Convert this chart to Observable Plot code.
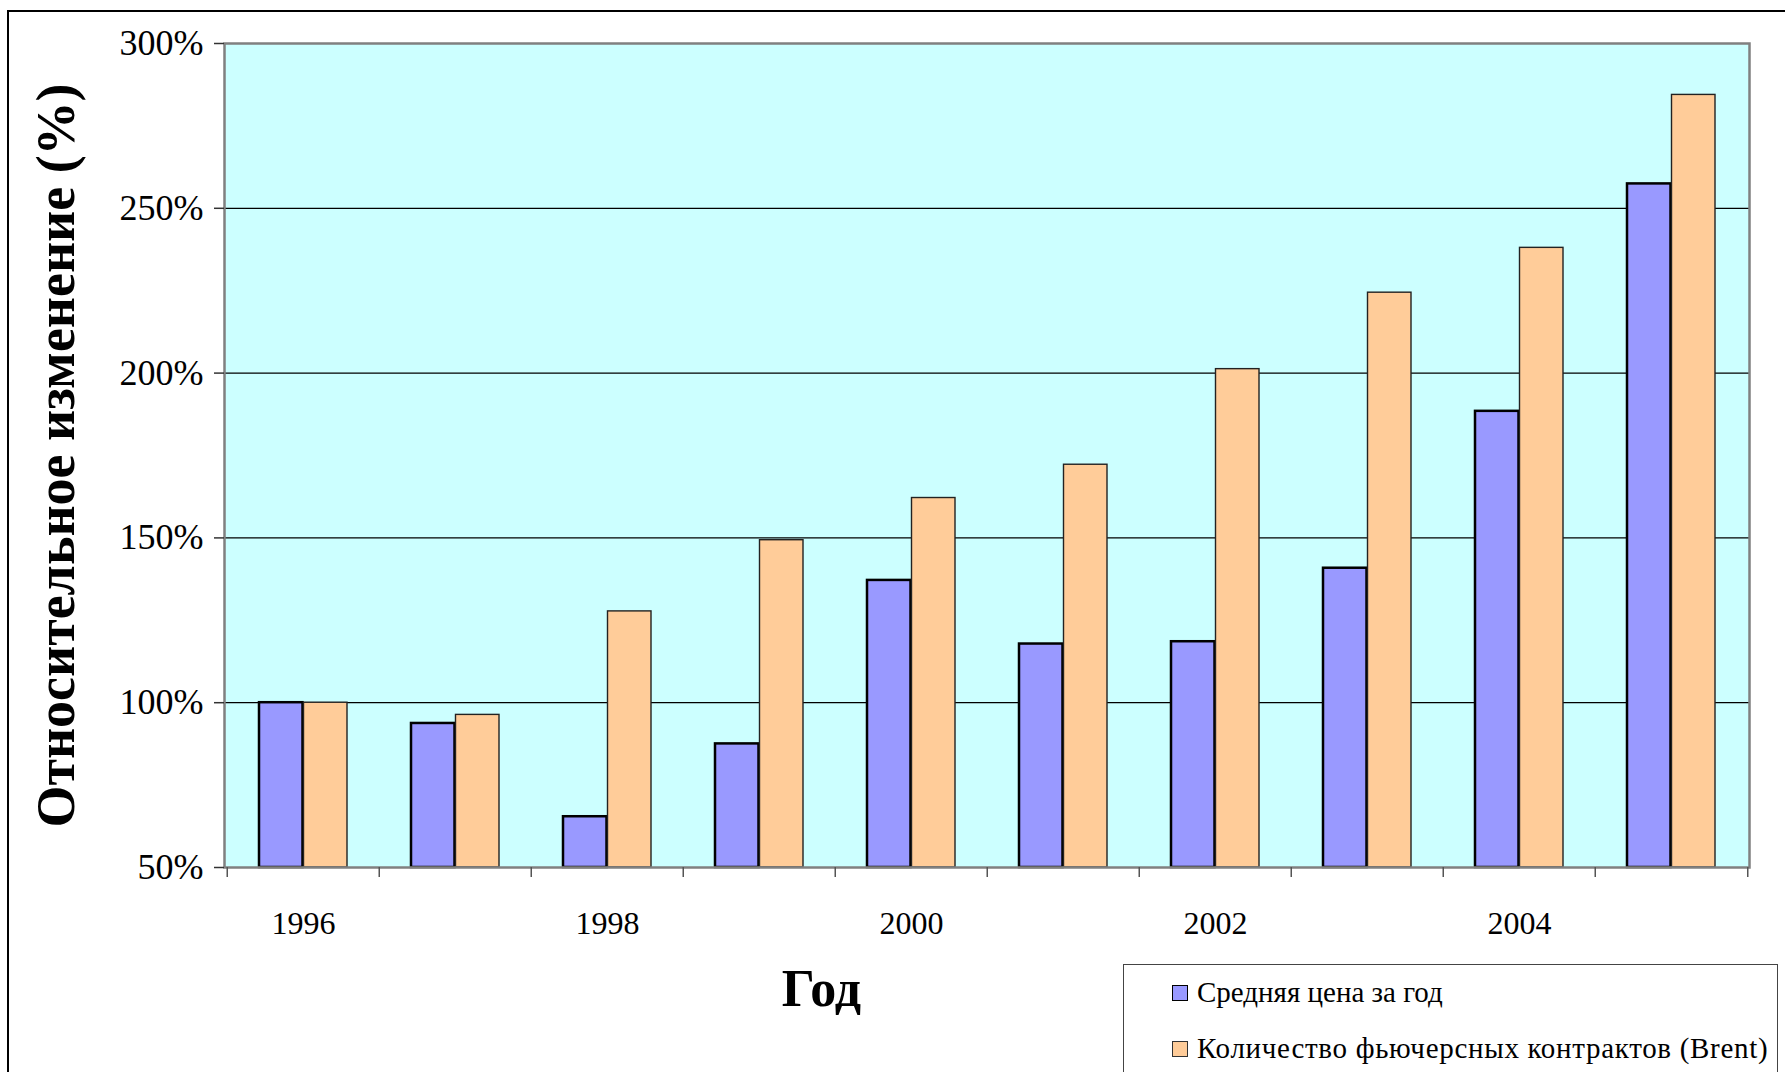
<!DOCTYPE html>
<html>
<head>
<meta charset="utf-8">
<script src="https://cdn.jsdelivr.net/npm/d3@7"></script>
<script src="https://cdn.jsdelivr.net/npm/@observablehq/plot@0.6"></script>
<style>
  html, body { margin: 0; padding: 0; background: #fff; overflow: hidden; }
  #wrap { position: relative; width: 1785px; height: 1072px; overflow: hidden; font-family: "Liberation Serif", "Times New Roman", serif; }
  #outer { position: absolute; left: 7px; top: 10px; width: 1800px; height: 1100px; border: 2px solid #000; box-sizing: border-box; pointer-events: none; }
  #legend { position: absolute; left: 1123px; top: 964px; width: 655px; height: 130px; border: 1.5px solid #444; box-sizing: border-box; background: #fff; }
  .lg-row { position: absolute; left: 48px; display: flex; align-items: center; font-size: 29px; color: #000; white-space: nowrap; }
  .lg-sw { width: 14px; height: 14px; border: 1.5px solid #000; margin-right: 9px; flex: none; }
</style>
</head>
<body>
<div id="wrap"></div>
<script>
const years = [1996, 1997, 1998, 1999, 2000, 2001, 2002, 2003, 2004, 2005];
const avgPrice = [100, 93.7, 65.4, 87.5, 137.1, 117.8, 118.5, 140.8, 188.4, 257.4];
const futures = [100, 96.3, 127.7, 149.3, 162.1, 172.2, 201.2, 224.4, 238.0, 284.4];
const seriesNames = ["Средняя цена за год", "Количество фьючерсных контрактов (Brent)"];
const seriesColors = ["#9999FF", "#FFCC99"];
const yTicks = [50, 100, 150, 200, 250, 300];
const gridTicks = [100, 150, 200, 250];
const xLabels = [1996, 1998, 2000, 2002, 2004];
const yTitle = "Относительное изменение (%)";
const xTitle = "Год";

const priceRows = years.map((year, i) => ({year, series: seriesNames[0], value: avgPrice[i]}));
const futuresRows = years.map((year, i) => ({year, series: seriesNames[1], value: futures[i]}));

const W = 1785, H = 1072;
const mL = 224, mR = 36, mT = 43, mB = 205;
const bw = (W - mL - mR) / years.length;
const font = "Liberation Serif, Times New Roman, serif";

const chart = Plot.plot({
  width: W,
  height: H,
  marginLeft: mL,
  marginRight: mR,
  marginTop: mT,
  marginBottom: mB,
  style: {background: "transparent", fontFamily: font, color: "#000", overflow: "visible"},
  x: {type: "band", domain: years, padding: 0},
  y: {domain: [50, 300]},
  color: {domain: seriesNames, range: seriesColors},
  marks: [
    Plot.frame({fill: "#CCFFFF"}),
    Plot.gridY(gridTicks, {stroke: "#000", strokeOpacity: 1, strokeWidth: 1.3}),
    Plot.barY(priceRows, {x: "year", y1: 50, y2: "value", fill: "series", stroke: "#000", strokeWidth: 2.5, insetLeft: 32, insetRight: bw - 32 - 44}),
    Plot.barY(futuresRows, {x: "year", y1: 50, y2: "value", fill: "series", stroke: "#222", strokeWidth: 1.4, insetLeft: bw - 32 - 44, insetRight: 32}),
    Plot.frame({stroke: "#808080", strokeWidth: 2.5}),
    Plot.axisY({ticks: yTicks, tickFormat: d => d + "%", tickSize: 10, tickPadding: 11, fontSize: 36, fontFamily: font, stroke: "#333", strokeWidth: 1.5, label: null}),
    Plot.axisX({ticks: years, tickSize: 10, dx: -bw / 2, text: null, stroke: "#555", strokeWidth: 1.5, label: null}),
    Plot.axisX({ticks: [years[years.length - 1]], tickSize: 10, dx: bw / 2, text: null, stroke: "#555", strokeWidth: 1.5, label: null}),
    Plot.axisX({ticks: xLabels, tickFormat: d => String(d), tickSize: 0, tickPadding: 44, fontSize: 32, fontFamily: font, label: null}),
    Plot.text([yTitle], {frameAnchor: "left", textAnchor: "middle", dx: 56 - mL, rotate: -90, fontSize: 54, fontWeight: "bold", fontFamily: font, fill: "#000"}),
    Plot.text([xTitle], {frameAnchor: "bottom", dx: 821 - (mL + (W - mL - mR) / 2), dy: 138, fontSize: 52, fontWeight: "bold", fontFamily: font, fill: "#000"})
  ]
});

const wrap = document.getElementById("wrap");
chart.style.position = "absolute";
chart.style.left = "0px";
chart.style.top = "0px";
wrap.appendChild(chart);

const outer = document.createElement("div");
outer.id = "outer";
wrap.appendChild(outer);

const color = chart.scale("color");
const legend = document.createElement("div");
legend.id = "legend";
seriesNames.forEach((name, i) => {
  const row = document.createElement("div");
  row.className = "lg-row";
  row.style.top = (i === 0 ? 11 : 67) + "px";
  if (i === 1) row.style.letterSpacing = "0.7px";
  const sw = document.createElement("div");
  sw.className = "lg-sw";
  sw.style.background = color.apply(name);
  sw.style.borderColor = i === 0 ? "#000" : "#333";
  const label = document.createElement("span");
  label.textContent = name;
  row.appendChild(sw);
  row.appendChild(label);
  legend.appendChild(row);
});
wrap.appendChild(legend);
</script>
</body>
</html>
